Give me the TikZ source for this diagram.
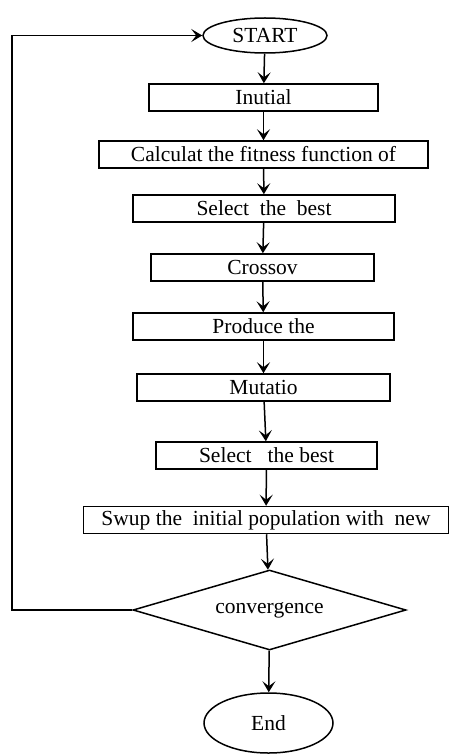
\documentclass[tikz,border=0pt]{standalone}
\usepackage{fontspec}
\setmainfont{Liberation Serif}
\usetikzlibrary{arrows.meta,shapes.geometric}

\tikzset{
  box/.style={draw, line width=1.5pt, minimum height=27pt, inner sep=0pt},
  term/.style={draw, ellipse, line width=1.5pt, inner sep=0pt},
  test/.style={draw, diamond, aspect=3.4, line width=1.5pt, inner sep=0pt},
  arr/.style={line width=1.5pt, -{Stealth[length=11pt,width=13pt,inset=5pt]}}
}

\begin{document}
\begin{tikzpicture}[x=1pt, y=-1pt, font=\fontsize{21.5}{24}\selectfont]
    \useasboundingbox (0,0) rectangle (450,754);
    \node [term, minimum width=124pt, minimum height=35pt] (start) at (265, 35.5) {START};
    \node [box, minimum width=229pt] (init) at (263.5, 97.5) {Inutial};
    \node [box, minimum width=329pt] (fit) at (263.5, 154.5) {Calculat the fitness function of};
    \node [box, minimum width=262pt] (best) at (264, 208.5) {Select\ \ the\ \ best};
    \node [box, minimum width=223pt] (cross) at (262.5, 267.5) {Crossov};
    \node [box, minimum width=261pt] (prod) at (263.5, 326.5) {Produce the};
    \node [box, minimum width=253pt] (mut) at (263.5, 387.5) {Mutatio};
    \node [box, minimum width=221pt] (best2) at (266.5, 455.5) {Select\ \ \ the best};
    \node [box, minimum width=365pt] (swap) at (266, 520) {Swup the\ \ initial population with\ \ new};
    \node [test, minimum width=273pt, minimum height=80pt] (conv) at (269.5, 610) {convergence};
    \node [term, minimum width=129pt, minimum height=60pt] (end) at (268.5, 723) {End};
    \coordinate (LB) at (12, 610);
    \coordinate (LT) at (12, 35.5);
    \draw [arr] (start) -- (init);
    \draw [arr] (init) -- (fit);
    \draw [arr] (fit) -- (best);
    \draw [arr] (best) -- (cross);
    \draw [arr] (cross) -- (prod);
    \draw [arr] (prod) -- (mut);
    \draw [arr] (mut) -- (best2);
    \draw [arr] (best2) -- (swap);
    \draw [arr] (swap) -- (conv);
    \draw [arr] (conv) -- (end);
    \draw [arr] (conv.west) -- (LB) -- (LT) -- (start.west);
\end{tikzpicture}
\end{document}
